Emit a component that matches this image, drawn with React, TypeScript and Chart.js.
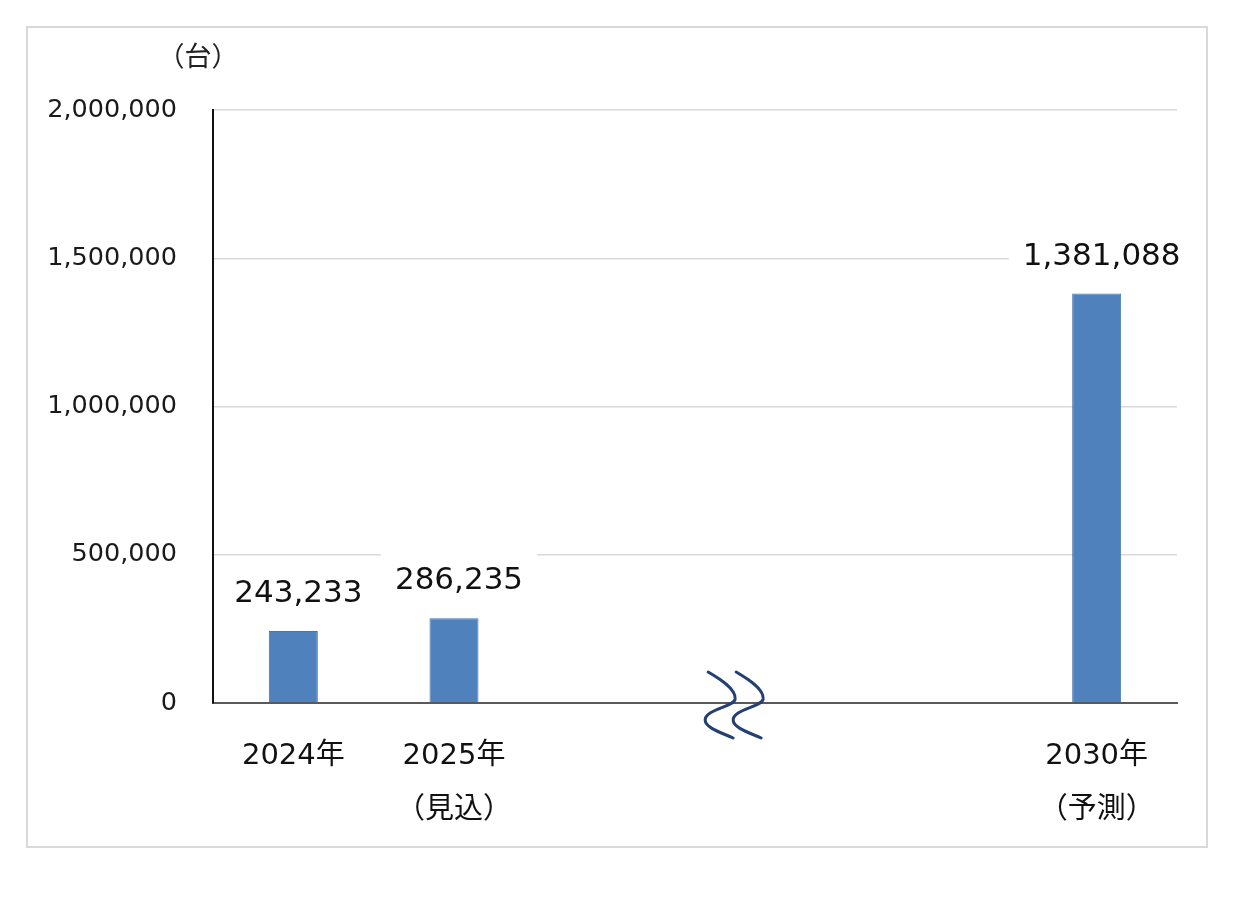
import React, { useEffect, useRef } from "react";
import { Chart, registerables } from "chart.js";

Chart.register(...registerables);

const categories: (string | string[])[] = [
  ["2024年"],
  ["2025年", "（見込）"],
  "",
  "",
  "",
  ["2030年", "（予測）"],
];
const values: (number | null)[] = [243233, 286235, null, null, null, 1381088];
const yMin = 0;
const yMax = 2000000;
const yStep = 500000;
const unitLabel = "（台）";
const breakPosition = 2.75;

const FONT = '"DejaVu Sans", "Noto Sans CJK JP", sans-serif';

const fmt = (v: number) => v.toLocaleString("en-US");

const framePlugin = {
  id: "frame",
  beforeDraw(chart: any) {
    const { ctx, width, height } = chart;
    ctx.save();
    ctx.fillStyle = "#ffffff";
    ctx.fillRect(0, 0, width, height);
    ctx.strokeStyle = "#d9d9d9";
    ctx.lineWidth = 2;
    ctx.strokeRect(27, 27, 1180, 820);
    ctx.restore();
  },
  afterDraw(chart: any) {
    const { ctx } = chart;
    const ya = chart.scales.y;
    ctx.save();
    ctx.fillStyle = "#222222";
    ctx.font = `27px ${FONT}`;
    ctx.textAlign = "center";
    ctx.textBaseline = "middle";
    ctx.fillText(unitLabel, ya.right - 15, 59);
    ctx.restore();
  },
};

const labelPlugin = {
  id: "barLabels",
  afterDatasetsDraw(chart: any) {
    const { ctx } = chart;
    const meta = chart.getDatasetMeta(0);
    ctx.save();
    ctx.font = `31px ${FONT}`;
    ctx.textAlign = "center";
    ctx.textBaseline = "middle";
    meta.data.forEach((bar: any, i: number) => {
      const v = values[i];
      if (v === null || v === undefined) return;
      const text = fmt(v);
      const x = bar.x + 5;
      const y = bar.y - 37;
      const w = ctx.measureText(text).width + 28;
      const h = 31 + 30;
      ctx.fillStyle = "#ffffff";
      ctx.fillRect(x - w / 2, y - h / 2, w, h);
      ctx.fillStyle = "#111111";
      ctx.fillText(text, x, y);
    });
    ctx.restore();
  },
};

const breakPlugin = {
  id: "breakMark",
  afterDraw(chart: any) {
    const { ctx } = chart;
    const xs = chart.scales.x;
    const ys = chart.scales.y;
    const cx = xs.getPixelForValue(breakPosition);
    const ay = ys.getPixelForValue(0);
    ctx.save();
    ctx.strokeStyle = "#233f73";
    ctx.lineWidth = 3;
    ctx.lineCap = "round";
    [cx - 27, cx + 1].forEach((bx) => {
      ctx.beginPath();
      ctx.moveTo(bx, ay - 31);
      ctx.bezierCurveTo(bx + 12, ay - 24, bx + 28, ay - 14, bx + 27, ay - 4);
      ctx.bezierCurveTo(bx + 26, ay + 4, bx - 3, ay + 6, bx - 3, ay + 17);
      ctx.bezierCurveTo(bx - 3, ay + 25, bx + 14, ay + 30, bx + 25, ay + 35);
      ctx.stroke();
    });
    ctx.restore();
  },
};

export default function App() {
  const ref = useRef<HTMLCanvasElement | null>(null);

  useEffect(() => {
    document.body.style.margin = "0";
    const canvas = ref.current;
    if (!canvas) return;
    const chart = new Chart(canvas, {
      type: "bar",
      data: {
        labels: categories,
        datasets: [
          {
            data: values,
            backgroundColor: "#4f81bd",
            borderColor: "#4475b0",
            borderWidth: 1,
            barPercentage: 0.305,
            categoryPercentage: 1,
          },
        ],
      },
      options: {
        responsive: false,
        animation: false,
        devicePixelRatio: 1,
        layout: { padding: { left: 0, right: 63, top: 110, bottom: 0 } },
        plugins: {
          legend: { display: false },
          tooltip: { enabled: false },
          title: { display: false },
        },
        scales: {
          x: {
            grid: { display: false, drawTicks: false },
            border: { display: true, color: "#595959", width: 2 },
            ticks: {
              color: "#111111",
              padding: 27,
              maxRotation: 0,
              autoSkip: false,
              font: { family: FONT, size: 29, lineHeight: 1.85 },
            },
            afterFit(scale: any) {
              scale.height = 201;
            },
          },
          y: {
            min: yMin,
            max: yMax,
            grid: {
              drawTicks: false,
              color: (c: any) => (c.tick && c.tick.value === 0 ? "rgba(0,0,0,0)" : "#d9d9d9"),
              lineWidth: 1.5,
            },
            border: { display: true, color: "#111111", width: 2 },
            ticks: {
              stepSize: yStep,
              color: "#1a1a1a",
              padding: 36,
              font: { family: FONT, size: 25.5 },
              callback: (v: any) => fmt(Number(v)),
            },
            afterFit(scale: any) {
              scale.width = 213;
            },
          },
        },
      },
      plugins: [framePlugin, labelPlugin, breakPlugin],
    });
    return () => chart.destroy();
  }, []);

  return (
    <div style={{ width: 1240, height: 904 }}>
      <canvas ref={ref} width={1240} height={904} style={{ display: "block" }} />
    </div>
  );
}
